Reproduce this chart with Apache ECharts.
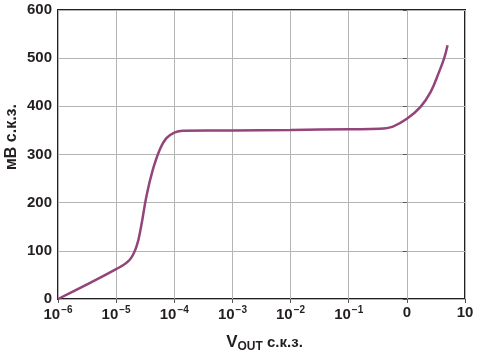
<!DOCTYPE html>
<html><head><meta charset="utf-8">
<script src="https://cdn.jsdelivr.net/npm/echarts@6/dist/echarts.min.js"></script>
<style>html,body{margin:0;padding:0;background:#fff}#c{width:479px;height:356px}</style>
</head><body><div id="c"></div>
<script>
// x positions as decimal exponents (log10 of V_OUT), y in mV rms
const xExp = [-6, -5.0, -4.77, -4.65, -4.57, -4.48, -4.37, -4.25, -4.135, -3.99, -3.85, -3.0, -2.0, -0.98, -0.47, -0.24, 0.0, 0.235, 0.41, 0.556, 0.642, 0.70];
const yVal = [0, 62, 81, 109, 151, 213, 268, 310, 334, 346, 349.5, 350, 351, 352.5, 353.5, 358, 374, 399, 430, 472, 500, 527];
const xTickLabels = {"-6":"{b|10}{s|−6}","-5":"{b|10}{s|−5}","-4":"{b|10}{s|−4}","-3":"{b|10}{s|−3}","-2":"{b|10}{s|−2}","-1":"{b|10}{s|−1}","0":"{b|0}","1":"{b|10}"};
const yTicks = [0,100,200,300,400,500,600];

const chart = echarts.init(document.getElementById('c'));
const F = 'Liberation Sans, Arial, sans-serif';
chart.setOption({
  animation:false,
  grid:{left:58,top:10,right:14,bottom:57,show:true,borderColor:'#231f20',borderWidth:2,backgroundColor:'transparent',outerBoundsMode:'none',containLabel:false},
  graphic:[{type:'text',x:12,y:137,rotation:Math.PI/2,
    style:{text:'мВ с.к.з.',fontFamily:F,fontWeight:'bold',fontSize:16,fill:'#231f20',align:'center',verticalAlign:'middle'}}],
  xAxis:{type:'value',min:-6,max:1,interval:1,
    axisLine:{show:false},
    axisTick:{show:true,length:4,inside:false,lineStyle:{color:'#555'}},
    splitLine:{show:true,lineStyle:{color:'#b4b4b4',width:1}},
    axisLabel:{margin:6,formatter:v=>xTickLabels[String(v)]||'',
      rich:{b:{fontFamily:F,fontWeight:'bold',fontSize:15,color:'#231f20'},
            s:{fontFamily:F,fontWeight:'bold',fontSize:10,color:'#231f20',verticalAlign:'bottom',padding:[0,0,10,1]}}},
    name:'{v|V}{sub|OUT}{n| с.к.з.}',nameLocation:'middle',nameGap:33,
    nameTextStyle:{padding:[0,0,0,6],rich:{v:{fontFamily:F,fontWeight:'bold',fontSize:17,color:'#231f20'},
      sub:{fontFamily:F,fontWeight:'bold',fontSize:12,color:'#231f20',verticalAlign:'top',padding:[9,0,0,0]},
      n:{fontFamily:F,fontWeight:'bold',fontSize:15,color:'#231f20'}}}
  },
  yAxis:{type:'value',min:0,max:600,interval:100,
    axisLine:{show:false},
    axisTick:{show:true,length:4,lineStyle:{color:'#555'}},
    splitLine:{show:true,lineStyle:{color:'#b4b4b4',width:1}},
    axisLabel:{margin:6,fontFamily:F,fontWeight:'bold',fontSize:15,color:'#231f20',
      formatter:v=>yTicks.includes(v)?String(v):''}
  },
  series:[{type:'line',data:xExp.map((x,i)=>[x,yVal[i]]),smooth:0.4,showSymbol:false,
    lineStyle:{color:'#93447a',width:2.5}}]
});
</script></body></html>
